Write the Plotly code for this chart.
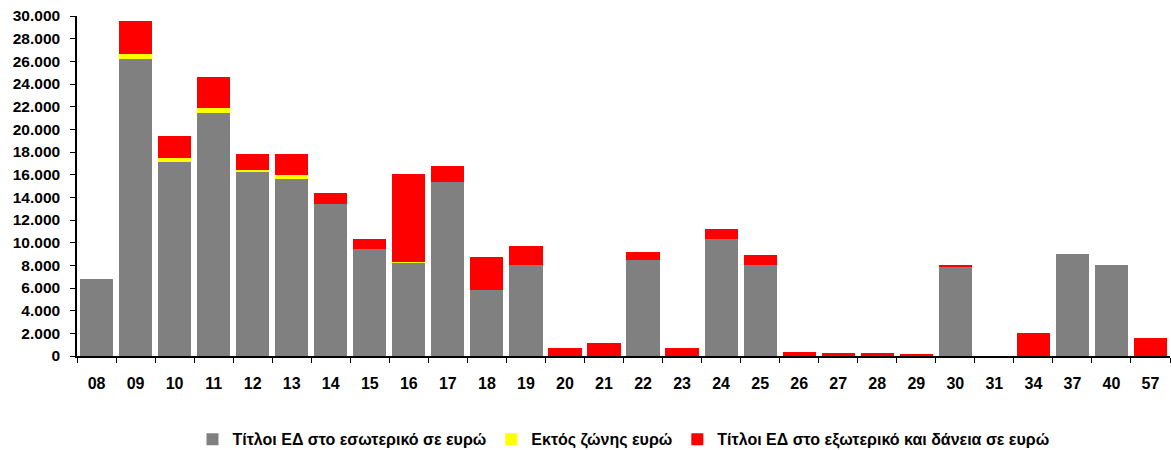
import plotly.graph_objects as go

categories = ["08", "09", "10", "11", "12", "13", "14", "15", "16", "17", "18", "19", "20", "21",
              "22", "23", "24", "25", "26", "27", "28", "29", "30", "31", "34", "37", "40", "57"]
domestic = [6800, 26200, 17150, 21400, 16300, 15600, 13400, 9400, 8250, 15350, 5850, 8050, 0, 0,
            8500, 0, 10350, 8050, 0, 0, 0, 0, 7850, 0, 0, 9000, 8000, 0]
non_euro = [0, 450, 350, 450, 100, 400, 0, 0, 50, 0, 0, 0, 0, 0,
            0, 0, 0, 0, 0, 0, 0, 0, 0, 0, 0, 0, 0, 0]
foreign = [0, 2900, 1950, 2750, 1400, 1800, 950, 900, 7800, 1450, 2900, 1700, 700, 1150,
           700, 700, 900, 900, 350, 250, 250, 100, 180, 0, 2000, 0, 0, 1550]

names = ["Τίτλοι ΕΔ στο εσωτερικό σε ευρώ", "Εκτός ζώνης ευρώ",
         "Τίτλοι ΕΔ στο εξωτερικό και δάνεια σε ευρώ"]
colors = ["#808080", "#FFFF00", "#FF0000"]

fam = "Liberation Sans Narrow, Arial Narrow, Liberation Sans, Arial, sans-serif"

fig = go.Figure()
for vals, name, col in zip([domestic, non_euro, foreign], names, colors):
    fig.add_trace(go.Bar(x=categories, y=vals, name=name, marker_color=col,
                         marker_line_width=0))

fig.update_layout(
    barmode="stack", bargap=0.15,
    width=1171, height=450,
    margin=dict(l=77, r=1, t=16, b=94, autoexpand=False),
    plot_bgcolor="white", paper_bgcolor="white",
    separators=",.",
    font=dict(family=fam, size=14, color="black"),
    showlegend=True,
    legend=dict(orientation="h", x=0.5, xanchor="center", y=-0.195, yanchor="top",
                font=dict(family=fam, size=16, color="black", weight="bold"),
                traceorder="normal", itemwidth=30, tracegroupgap=0),
)
fig.update_xaxes(type="category", showline=True, linecolor="black", linewidth=1.5,
                 ticks="outside", tickson="boundaries", ticklen=5, tickcolor="black",
                 tickfont=dict(family=fam, size=16, color="black", weight="bold"),
                 ticklabelstandoff=12, automargin=False,
                 showgrid=False)
fig.update_yaxes(range=[0, 30000], dtick=2000, tickformat=",.0f", showline=True,
                 linecolor="black", linewidth=1.5, ticks="outside", ticklen=5, tickcolor="black",
                 tickfont=dict(family=fam, size=15.5, color="black", weight="bold"),
                 ticklabelstandoff=7, automargin=False,
                 showgrid=False, zeroline=False)

fig.write_html("out.html", config={"displayModeBar": False},
               post_script="document.body.style.margin='0';")
